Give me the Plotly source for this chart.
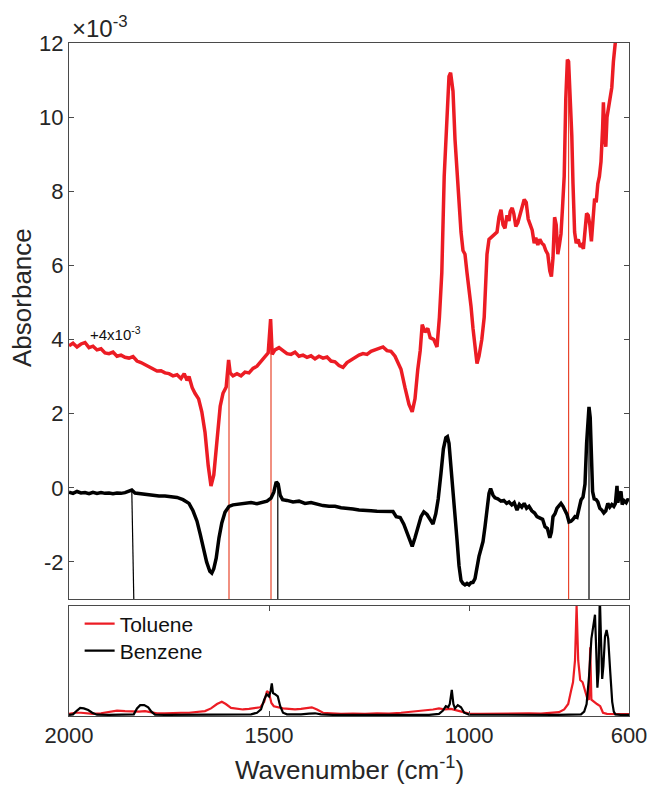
import plotly.graph_objects as go

# ---------------- data (top panel, units of 1e-3 absorbance) ----------------
TOLUENE_OFFSET = 4.0  # displayed "+4x10^-3"

wn_tol = [2000, 1990, 1980, 1970, 1960, 1950, 1940, 1930, 1920, 1910, 1900, 1890, 1880, 1870, 1860,
          1850, 1840, 1830, 1820, 1810, 1800, 1790, 1780, 1770, 1760, 1750, 1740, 1730, 1720, 1712,
          1705, 1700, 1692, 1685, 1676, 1668, 1660, 1652, 1645, 1638, 1630, 1622, 1615, 1607, 1601,
          1597, 1590, 1580, 1570, 1560, 1550, 1540, 1530, 1520, 1510, 1502, 1496, 1492, 1485, 1475,
          1465, 1455, 1445, 1435, 1425, 1415, 1405, 1395, 1385, 1375, 1365, 1355, 1345, 1335, 1325,
          1315, 1305, 1295, 1285, 1275, 1265, 1255, 1245, 1235, 1225, 1215, 1205, 1195, 1185, 1178,
          1170, 1160, 1150, 1142, 1135, 1128, 1122, 1117, 1110, 1103, 1097, 1088, 1080, 1074, 1068,
          1062, 1056, 1050, 1046, 1040, 1035, 1030, 1025, 1020, 1015, 1010, 1005, 1000, 995, 990,
          985, 980, 975, 968, 962, 955, 950, 945, 940, 935, 930, 925, 920, 915, 910,
          905, 900, 897, 892, 888, 883, 878, 873, 868, 862, 857, 852, 847, 842, 837,
          833, 828, 823, 818, 813, 808, 803, 798, 794, 790, 786, 782, 778, 774, 770,
          766, 762, 758, 754, 751, 747, 743, 740, 736, 732, 727, 722, 718, 714, 710,
          706, 702, 698, 694, 690, 686, 682, 678, 674, 670, 666, 664, 661, 658, 655,
          651, 647, 643, 639, 635, 631, 625]
toluene_diff = [-0.17, -0.10, -0.20, -0.12, -0.08, -0.22, -0.18, -0.28, -0.25, -0.36, -0.38, -0.34, -0.45, -0.42, -0.48,
                -0.50, -0.46, -0.58, -0.62, -0.68, -0.74, -0.78, -0.85, -0.84, -0.90, -0.92, -0.98, -0.95, -1.05, -0.92,
                -1.10, -1.00, -1.30, -1.45, -1.60, -1.95, -2.50, -3.40, -3.95, -3.65, -2.70, -1.80, -1.45, -1.28, -0.55,
                -0.90, -0.98, -0.92, -0.98, -0.88, -0.90, -0.78, -0.72, -0.60, -0.45, -0.36, 0.55, -0.40, -0.28, -0.22,
                -0.30, -0.38, -0.40, -0.34, -0.45, -0.42, -0.48, -0.44, -0.52, -0.45, -0.50, -0.47, -0.58, -0.60, -0.70,
                -0.75, -0.62, -0.55, -0.50, -0.42, -0.38, -0.40, -0.32, -0.28, -0.25, -0.20, -0.30, -0.32, -0.45, -0.60,
                -0.80, -1.30, -1.75, -1.95, -1.60, -0.80, -0.30, 0.40, 0.20, 0.30, 0.05, 0.00, -0.20, 0.60, 1.80,
                4.40, 5.90, 7.10, 7.20, 6.70, 5.40, 4.50, 3.60, 2.90, 2.40, 2.30, 1.80, 1.40, 0.90, 0.30,
                -0.30, -0.65, -0.45, 0.00, 0.60, 2.30, 2.70, 2.75, 2.80, 2.85, 2.90, 3.30, 3.50, 3.10, 3.00,
                3.35, 3.20, 3.45, 3.55, 3.40, 3.05, 3.15, 3.35, 3.55, 3.78, 3.70, 3.25, 3.10, 2.95, 2.60,
                2.75, 2.55, 2.70, 2.60, 2.55, 2.40, 2.30, 1.85, 1.70, 2.20, 3.30, 3.10, 2.30, 2.55, 2.85,
                3.60, 4.40, 6.50, 7.55, 7.50, 6.60, 5.50, 4.20, 2.90, 2.60, 2.70, 2.50, 2.55, 2.45, 3.00,
                3.40, 3.35, 3.10, 2.65, 3.20, 3.80, 3.70, 4.20, 4.40, 4.80, 5.70, 6.40, 5.50, 5.20, 6.00,
                6.30, 6.45, 6.80, 7.50, 7.95, 8.40, 9.00]

wn_ben = [2000, 1990, 1980, 1970, 1960, 1950, 1940, 1930, 1920, 1910, 1900, 1890, 1880, 1870, 1860,
          1850, 1843, 1835, 1820, 1805, 1790, 1775, 1760, 1745, 1730, 1715, 1700, 1690, 1680, 1672,
          1664, 1656, 1648, 1643, 1638, 1632, 1625, 1618, 1610, 1600, 1590, 1575, 1560, 1545, 1530,
          1515, 1505, 1495, 1488, 1482, 1477, 1472, 1466, 1455, 1440, 1425, 1410, 1395, 1380, 1365,
          1350, 1335, 1320, 1305, 1290, 1275, 1260, 1245, 1230, 1215, 1200, 1190, 1182, 1172, 1163,
          1155, 1148, 1142, 1135, 1127, 1120, 1113, 1105, 1097, 1090, 1083, 1077, 1070, 1064, 1058,
          1054, 1050, 1045, 1040, 1035, 1030, 1025, 1020, 1015, 1010, 1005, 1000, 995, 990, 985,
          980, 975, 970, 965, 960, 955, 950, 946, 940, 935, 928, 920, 913, 906, 900,
          893, 887, 880, 874, 868, 862, 856, 850, 843, 836, 830, 823, 816, 810, 804,
          798, 794, 790, 785, 780, 775, 770, 765, 760, 755, 750, 745, 740, 735, 730,
          725, 720, 715, 710, 706, 702, 700, 697, 694, 691, 687, 682, 678, 673, 668,
          663, 658, 653, 648, 643, 638, 634, 630, 628, 624, 620, 617, 612, 607, 602, 600]
benzene_diff = [-0.12, -0.15, -0.10, -0.14, -0.13, -0.16, -0.12, -0.15, -0.13, -0.15, -0.14, -0.16, -0.14, -0.15, -0.13,
                -0.10, -0.06, -0.14, -0.16, -0.19, -0.20, -0.22, -0.22, -0.24, -0.26, -0.32, -0.42, -0.62, -0.90, -1.25,
                -1.65, -2.00, -2.25, -2.30, -2.18, -1.90, -1.35, -0.95, -0.66, -0.50, -0.46, -0.44, -0.42, -0.40, -0.43,
                -0.38, -0.36, -0.28, -0.12, 0.16, 0.10, -0.20, -0.32, -0.34, -0.38, -0.36, -0.42, -0.40, -0.45, -0.48,
                -0.50, -0.50, -0.54, -0.55, -0.57, -0.60, -0.60, -0.62, -0.63, -0.64, -0.65, -0.64, -0.78, -0.80, -0.98,
                -1.20, -1.40, -1.58, -1.35, -1.05, -0.78, -0.65, -0.72, -0.86, -0.98, -0.70, -0.30, 0.40, 1.05, 1.35,
                1.38, 1.20, 0.60, -0.15, -0.80, -1.40, -2.10, -2.50, -2.58, -2.62, -2.58, -2.62, -2.56, -2.55, -2.45,
                -2.10, -1.85, -1.65, -1.45, -1.05, -0.55, -0.15, -0.02, -0.20, -0.27, -0.30, -0.36, -0.34, -0.42, -0.38,
                -0.46, -0.40, -0.60, -0.45, -0.52, -0.42, -0.55, -0.50, -0.62, -0.68, -0.78, -0.82, -0.85, -1.05, -1.10,
                -1.35, -1.20, -0.78, -0.70, -0.55, -0.48, -0.42, -0.50, -0.62, -0.72, -0.92, -0.90, -0.85, -0.78, -0.80,
                -0.55, -0.33, -0.25, 0.10, 1.20, 2.05, 2.18, 1.90, 1.00, -0.10, -0.30, -0.32, -0.38, -0.55, -0.60,
                -0.68, -0.62, -0.42, -0.52, -0.45, -0.50, -0.42, 0.05, -0.40, -0.20, -0.10, -0.45, -0.35, -0.40, -0.30, -0.35]

# connector lines from difference-spectrum bands to the reference spectra
conn_wn_top = [1843, 1600, 1495, 1478, 751, 700]
conn_wn_bot = [1838, 1600, 1495, 1478, 751, 700]
conn_y_top = [-0.08, 3.45, 4.55, 0.16, 11.55, 2.18]
conn_series = ["Benzene", "Toluene", "Toluene", "Benzene", "Toluene", "Benzene"]

# ---------------- data (bottom panel, normalised reference spectra) ----------------
wn_tol_ref = [2000, 1985, 1970, 1955, 1940, 1920, 1900, 1880, 1860, 1840, 1825, 1810, 1795, 1780, 1760,
              1740, 1720, 1700, 1680, 1660, 1645, 1630, 1618, 1608, 1595, 1580, 1565, 1550, 1535, 1522,
              1512, 1505, 1500, 1494, 1488, 1478, 1465, 1450, 1435, 1420, 1405, 1393, 1380, 1365, 1345,
              1320, 1290, 1260, 1230, 1200, 1170, 1140, 1110, 1090, 1075, 1060, 1045, 1030, 1015, 1000,
              970, 940, 910, 880, 850, 820, 790, 775, 762, 752, 745, 740, 735, 731, 727,
              722, 716, 710, 705, 700, 697, 694, 688, 680, 672, 665, 655, 640, 620, 600]
toluene_ref = [0.01, 0.02, 0.02, 0.015, 0.01, 0.015, 0.03, 0.04, 0.035, 0.03, 0.03, 0.035, 0.025, 0.015, 0.015,
               0.02, 0.02, 0.02, 0.025, 0.035, 0.06, 0.10, 0.12, 0.10, 0.065, 0.055, 0.05, 0.055, 0.06, 0.07,
               0.12, 0.22, 0.20, 0.11, 0.08, 0.07, 0.06, 0.055, 0.05, 0.055, 0.065, 0.07, 0.05, 0.02, 0.015,
               0.01, 0.012, 0.01, 0.015, 0.012, 0.02, 0.03, 0.04, 0.05, 0.06, 0.05, 0.055, 0.04, 0.02, 0.012,
               0.01, 0.012, 0.015, 0.012, 0.015, 0.012, 0.02, 0.025, 0.05, 0.10, 0.22, 0.30, 0.50, 1.00, 0.50,
               0.32, 0.30, 0.22, 0.16, 0.14, 0.62, 0.14, 0.12, 0.10, 0.08, 0.02, 0.01, 0.01, 0.008, 0.008]

wn_ben_ref = [2000, 1990, 1980, 1972, 1963, 1952, 1942, 1930, 1900, 1860, 1838, 1830, 1822, 1812, 1802,
              1794, 1785, 1760, 1700, 1600, 1545, 1530, 1520, 1512, 1506, 1500, 1496, 1493, 1490, 1485,
              1478, 1472, 1465, 1455, 1420, 1400, 1385, 1370, 1340, 1100, 1075, 1065, 1058, 1052, 1048,
              1043, 1039, 1035, 1028, 1020, 1012, 1000, 900, 780, 720, 712, 706, 700, 694, 688,
              685, 682, 679, 676, 673, 670, 667, 664, 660, 656, 652, 647, 642, 638, 634,
              620, 600]
benzene_ref = [0.0, 0.005, 0.04, 0.065, 0.06, 0.045, 0.02, 0.002, 0.0, 0.0, 0.005, 0.06, 0.09, 0.09, 0.07,
               0.03, 0.002, 0.0, 0.0, 0.0, 0.005, 0.02, 0.05, 0.14, 0.19, 0.17, 0.22, 0.29, 0.20, 0.19,
               0.17, 0.08, 0.02, 0.005, 0.005, 0.012, 0.015, 0.005, 0.0, 0.0, 0.01, 0.04, 0.08, 0.07, 0.10,
               0.23, 0.10, 0.06, 0.09, 0.07, 0.02, 0.003, 0.0, 0.0, 0.005, 0.03, 0.10, 0.35, 0.70, 0.88,
               0.92, 0.60, 0.25, 0.40, 1.10, 0.70, 0.33, 0.45, 0.72, 0.78, 0.70, 0.40, 0.12, 0.03, 0.005,
               0.0, 0.0]

x_ticks = [2000, 1500, 1000, 600]
y_ticks = [-2, 0, 2, 4, 6, 8, 10, 12]

# ---------------- styling ----------------
RED = "rgb(236,28,36)"
CONN_RED = "rgb(232,70,45)"
BLACK = "rgb(0,0,0)"
AXC = "#4a4a4a"
FONT = "Liberation Sans, Arial, Helvetica, sans-serif"
conn_colors = {"Toluene": CONN_RED, "Benzene": BLACK}

fig = go.Figure()

# connectors
for xt, xb, yt, s in zip(conn_wn_top, conn_wn_bot, conn_y_top, conn_series):
    fig.add_trace(go.Scatter(x=[xt, xb], y=[yt, -3], mode="lines",
                             line=dict(color=conn_colors[s], width=1.2),
                             showlegend=False, hoverinfo="skip", xaxis="x", yaxis="y"))

tol_shifted = [v + TOLUENE_OFFSET for v in toluene_diff]
fig.add_trace(go.Scatter(x=wn_tol, y=tol_shifted, mode="lines", line=dict(color=RED, width=3.5),
                         showlegend=False, xaxis="x", yaxis="y"))
fig.add_trace(go.Scatter(x=wn_ben, y=benzene_diff, mode="lines", line=dict(color=BLACK, width=3.5),
                         showlegend=False, xaxis="x", yaxis="y"))

fig.add_trace(go.Scatter(x=wn_tol_ref, y=toluene_ref, mode="lines", name="Toluene",
                         line=dict(color=RED, width=2.2), xaxis="x2", yaxis="y2", legend="legend"))
fig.add_trace(go.Scatter(x=wn_ben_ref, y=benzene_ref, mode="lines", name="Benzene",
                         line=dict(color=BLACK, width=2.2), xaxis="x2", yaxis="y2", legend="legend2"))

# plot area spans page x 69..629, y 43..716
H_PLOT = 673
top_lo = (716 - 599) / H_PLOT
bot_hi = (716 - 606) / H_PLOT

axis_common = dict(showline=True, linecolor=AXC, linewidth=1, showgrid=False,
                   zeroline=False, automargin=False,
                   tickfont=dict(family=FONT, size=22, color="#262626"))
legend_common = dict(x=0.019, xanchor="left", yanchor="middle", bgcolor="rgba(0,0,0,0)",
                     borderwidth=0, itemwidth=30, font=dict(family=FONT, size=21, color="#111"))

fig.update_layout(
    template="none",
    width=650, height=785,
    margin=dict(l=69, r=21, t=43, b=69, autoexpand=False),
    paper_bgcolor="white", plot_bgcolor="white",
    font=dict(family=FONT, color="#262626"),
    xaxis=dict(domain=[0, 1], range=[2000, 600], anchor="y", showticklabels=False, ticks="",
               mirror=True, **axis_common),
    yaxis=dict(domain=[top_lo, 1], range=[-3, 12], anchor="x", tickvals=y_ticks,
               ticktext=[str(v) for v in y_ticks], ticks="inside", ticklen=5, tickcolor=AXC,
               mirror="ticks", **axis_common),
    xaxis2=dict(domain=[0, 1], range=[2000, 600], anchor="y2", tickvals=x_ticks,
                ticktext=[str(v) for v in x_ticks], ticks="inside", ticklen=5, tickcolor=AXC,
                mirror="ticks", **axis_common),
    yaxis2=dict(domain=[0, bot_hi], range=[-0.01, 1.0], anchor="x2", showticklabels=False,
                ticks="", mirror=True, **axis_common),
    legend=dict(y=(716 - 624) / H_PLOT, **legend_common),
    legend2=dict(y=(716 - 651) / H_PLOT, **legend_common),
    showlegend=True,
)

fig.add_annotation(text="Absorbance", xref="paper", yref="paper", x=(22 - 69) / 560,
                   y=(716 - 298) / H_PLOT, textangle=-90, showarrow=False,
                   xanchor="center", yanchor="middle",
                   font=dict(family=FONT, size=26, color="#262626"))
fig.add_annotation(text="Wavenumber (cm<sup>-1</sup>)", xref="paper", yref="paper", x=0.5,
                   y=(716 - 768) / H_PLOT, showarrow=False, xanchor="center", yanchor="middle",
                   font=dict(family=FONT, size=26, color="#262626"))
fig.add_annotation(text="×10<sup>-3</sup>", xref="paper", yref="paper", x=(70 - 69) / 560,
                   y=(716 - 27) / H_PLOT, showarrow=False, xanchor="left", yanchor="middle",
                   font=dict(family=FONT, size=24, color="#262626"))
fig.add_annotation(text="+4x10<sup>-3</sup>", xref="x", yref="y", x=1953, y=4.15,
                   showarrow=False, xanchor="left", yanchor="middle",
                   font=dict(family=FONT, size=15, color="#111"))

# remove the default 8px body margin so the 650x785 figure fills the window exactly
fig.write_html("out.html", config={"displayModeBar": False},
               post_script="document.body.style.margin='0';document.body.style.overflow='hidden';")
